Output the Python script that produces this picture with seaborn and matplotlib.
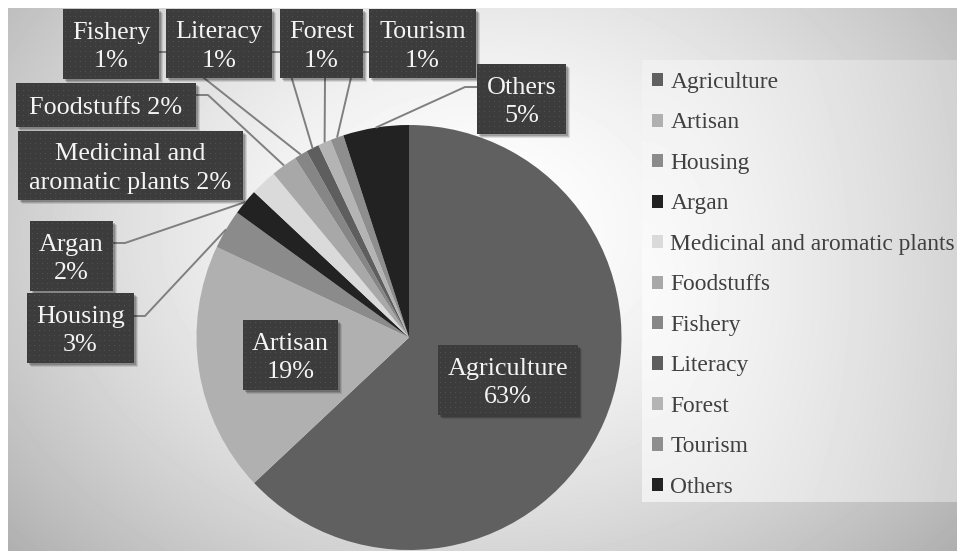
import numpy as np
import matplotlib
matplotlib.use("Agg")
import matplotlib.pyplot as plt
import seaborn as sns
from matplotlib.patches import Rectangle

# ---- data -------------------------------------------------------------
sectors = ["Agriculture", "Artisan", "Housing", "Argan",
           "Medicinal and aromatic plants", "Foodstuffs", "Fishery",
           "Literacy", "Forest", "Tourism", "Others"]
shares = [63, 19, 3, 2, 2, 2, 1, 1, 1, 1, 5]
# how each sector name is broken inside its data label
label_names = ["Agriculture\n", "Artisan\n", "Housing\n", "Argan\n",
               "Medicinal and\naromatic plants ", "Foodstuffs ", "Fishery\n",
               "Literacy\n", "Forest\n", "Tourism\n", "Others\n"]
slice_colors = ["#606060", "#b0b0b0", "#8b8b8b", "#222222", "#dadada",
                "#a8a8a8", "#868686", "#5e5e5e", "#b4b4b4", "#8e8e8e",
                "#222222"]

# ---- layout (pixel space, y measured from the top) ---------------------
W, H = 957, 551
CX, CY, R = 409, 337.5, 212.5
# label boxes: x0, y0, x1, y1
boxes = [
    (438, 345, 578, 415),   # Agriculture
    (243, 320, 338, 390),   # Artisan
    (27, 293, 134, 363),    # Housing
    (30, 221, 113, 291),    # Argan
    (18, 131, 243, 200),    # Medicinal
    (16, 83, 196, 127),     # Foodstuffs
    (63, 9, 159, 79),       # Fishery
    (166, 9, 272, 78),      # Literacy
    (280, 9, 363, 78),      # Forest
    (369, 9, 476, 78),      # Tourism
    (477, 64, 566, 134),    # Others
]
# leader lines: start on the box, optional elbow, then to the slice edge
leaders = {
    2: [(134, 316), (145, 316)],
    3: [(113, 243), (125, 243)],
    5: [(196, 95), (208, 95)],
    6: [(159, 52), (171, 52)],
    7: [(272, 52), (284, 52)],
    8: [(325, 78)],
    9: [(369, 52), (357, 52)],
    10: [(477, 87), (465, 87)],
}

sns.set_theme(style="white")
plt.rcParams["font.family"] = ["Liberation Serif", "DejaVu Serif"]

fig = plt.figure(figsize=(W / 100, H / 100), dpi=100)
ax = fig.add_axes([0, 0, 1, 1])


def fy(py):
    return H - py


# ---- background gradients --------------------------------------------
yy, xx = np.mgrid[0:H, 0:W] + 0.5
t = np.sqrt(((xx - 480) / 560) ** 2 + ((yy - 230) / 430) ** 2)
bg = 255 - 66 * np.clip(t, 0, 1.15) ** 1.6
t2 = np.sqrt(((xx - 642) / 330) ** 2 + ((yy - 280) / 600) ** 2)
leg = 250 - 40 * np.clip(t2, 0, 1.1) ** 1.3
inside_leg = (xx >= 642) & (yy >= 60) & (yy <= 502)
bg = np.where(inside_leg, leg, bg)
bg[:8, :] = 255
bg[:, :8] = 255
ax.imshow(bg, cmap="gray", vmin=0, vmax=255, extent=(0, W, 0, H),
          origin="upper", interpolation="bilinear", zorder=0, aspect="auto")

# ---- pie ----------------------------------------------------------------
wedges, _ = ax.pie(shares, colors=slice_colors, startangle=90,
                   counterclock=False, center=(CX, fy(CY)), radius=R,
                   wedgeprops=dict(linewidth=0), frame=True)
for w in wedges:
    w.set_zorder(2)

# slice edge points at each slice's mid angle
cum = np.cumsum(shares)
mids = (cum - np.array(shares) / 2) / cum[-1]
theta = np.deg2rad(90 - 360 * mids)
edge_x = CX + R * np.cos(theta)
edge_y = fy(CY) + R * np.sin(theta)

for i, pts in leaders.items():
    xs = [p[0] for p in pts] + [edge_x[i]]
    ys = [fy(p[1]) for p in pts] + [edge_y[i]]
    ax.plot(xs, ys, color="#7f7f7f", lw=1.4, zorder=3,
            solid_capstyle="butt")

# ---- data labels ----------------------------------------------------------
for i, (x0, y0, x1, y1) in enumerate(boxes):
    w, h = x1 - x0, y1 - y0
    for off, a in ((4, 0.10), (3, 0.14), (2, 0.18)):
        ax.add_patch(Rectangle((x0 + off, fy(y1) - off), w, h,
                               facecolor="black", alpha=a, lw=0, zorder=4))
    hh, ww = int(round(h)), int(round(w))
    pat = np.full((hh, ww), 60.0)
    pat[2::5, 2::5] = 82
    ax.imshow(pat, cmap="gray", vmin=0, vmax=255,
              extent=(x0, x1, fy(y1), fy(y0)), origin="upper",
              interpolation="nearest", zorder=5, aspect="auto")
    ax.text((x0 + x1) / 2, fy((y0 + y1) / 2) - 3,
            f"{label_names[i]}{shares[i]}%", ha="center", va="center",
            color="#f4f4f4", fontsize=18.8, linespacing=1.36, zorder=6)

# ---- legend -------------------------------------------------------------
lg = ax.legend(wedges, sectors, loc="upper left",
               bbox_to_anchor=(652 / W, fy(72) / H), frameon=False,
               fontsize=16.9, handlelength=0.48, handleheight=0.48,
               handletextpad=0.3, labelspacing=0.83, borderpad=0,
               borderaxespad=0)
for txt in lg.get_texts():
    txt.set_color("#404040")
lg.set_zorder(7)

ax.set_xlim(0, W)
ax.set_ylim(0, H)
ax.axis("off")
fig.savefig("out.png", dpi=100)
